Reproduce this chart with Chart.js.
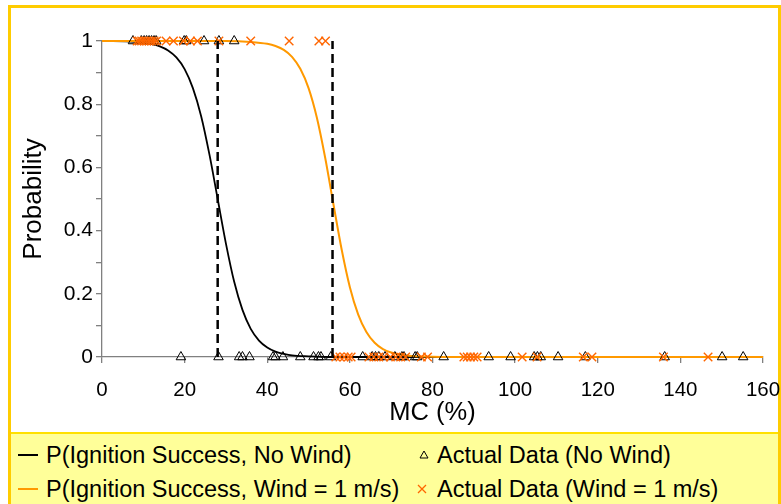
<!DOCTYPE html>
<html>
<head>
<meta charset="utf-8">
<script src="https://cdn.jsdelivr.net/npm/chart.js@4"></script>
<style>
    body { margin: 0; background: #fff; font-family: 'Liberation Sans', Arial, sans-serif; }
    #frame { position: absolute; left: 8px; top: 5px; width: 773px; height: 520px; box-sizing: border-box; border: 3px solid #FFCC00; }
    #legend { position: absolute; left: 11px; top: 432px; width: 767px; height: 80px; background: #FFFF99; border-top: 2px solid #FFE000; }
    #wrap { position: absolute; left: 0; top: 0; width: 781px; height: 432px; }
    .item { position: absolute; font-size: 23.5px; color: #000; white-space: nowrap; line-height: 26px; }
    .sym { position: absolute; }
</style>
</head>
<body>
<div id="frame"></div>
<div id="legend">
    <svg class="sym" style="left:7px;top:19px" width="22" height="4"><line x1="0" y1="2" x2="20" y2="2" stroke="#000" stroke-width="2"/></svg>
    <span class="item" style="left:35px;top:8px">P(Ignition Success, No Wind)</span>
    <svg class="sym" style="left:408px;top:16px" width="10" height="9"><polygon points="5,1 9,8 1,8" fill="none" stroke="#000" stroke-width="1"/></svg>
    <span class="item" style="left:426px;top:8px">Actual Data (No Wind)</span>
    <svg class="sym" style="left:7px;top:53px" width="22" height="4"><line x1="0" y1="2" x2="20" y2="2" stroke="#FF9900" stroke-width="2"/></svg>
    <span class="item" style="left:35px;top:42px">P(Ignition Success, Wind = 1 m/s)</span>
    <svg class="sym" style="left:406px;top:50px" width="10" height="10"><path d="M1,1 L9,9 M9,1 L1,9" stroke="#FF6600" stroke-width="1.3"/></svg>
    <span class="item" style="left:426px;top:42px">Actual Data (Wind = 1 m/s)</span>
</div>
<div id="wrap"><canvas id="probChart" width="781" height="432"></canvas></div>
<script>
// fitted curves
const noWindMC = [0, 8, 12, 14, 16, 18, 20, 22, 24, 26, 28, 30, 32, 34, 36, 38, 40, 42, 44, 46, 50, 55, 60, 160];
const noWindP = [1.000, 0.997, 0.990, 0.983, 0.970, 0.948, 0.911, 0.851, 0.762, 0.641, 0.500, 0.359, 0.238, 0.149, 0.089, 0.052, 0.030, 0.017, 0.010, 0.005, 0.002, 0.000, 0.000, 0.000];
const windMC = [0, 30, 36, 40, 42, 44, 46, 48, 50, 52, 54, 56, 58, 60, 62, 64, 66, 68, 70, 72, 75, 80, 90, 160];
const windP = [1.000, 1.000, 0.997, 0.991, 0.984, 0.972, 0.950, 0.912, 0.851, 0.758, 0.632, 0.485, 0.341, 0.221, 0.135, 0.079, 0.045, 0.025, 0.014, 0.008, 0.003, 0.001, 0.000, 0.000];

// observed samples: ignited (P = 1) and not ignited (P = 0)
const noWindIgnited = [7.5, 9.5, 10.2, 10.8, 11.4, 12.0, 12.6, 13.1, 19.9, 20.4, 24.7, 28.3, 32.0];
const noWindFailed = [19.1, 28.2, 33.2, 34.0, 35.7, 41.4, 42.0, 43.8, 48.0, 51.2, 52.4, 53.0, 55.4, 63.1, 65.4, 66.2, 67.0, 68.5, 70.9, 72.6, 73.1, 75.8, 76.3, 82.7, 93.6, 98.9, 104.6, 105.4, 106.2, 110.4, 117.0, 136.2, 150.1, 155.2];
const windIgnited = [8.5, 9.0, 9.6, 10.2, 10.8, 11.4, 12.0, 12.6, 13.2, 15.5, 17.3, 19.7, 21.4, 23.1, 28.3, 36.0, 45.3, 52.5, 54.1];
const windFailed = [56.6, 57.6, 58.6, 59.6, 60.3, 64.6, 65.8, 67.0, 68.2, 69.8, 71.1, 72.3, 73.5, 77.3, 78.8, 87.6, 88.4, 89.2, 90.0, 90.8, 101.7, 105.3, 116.5, 118.6, 135.9, 146.7];

// 50% moisture content marks
const thresholdMC = [28.0, 55.8];

const yTickLabels = ['0', '0.2', '0.4', '0.6', '0.8', '1'];

document.addEventListener('DOMContentLoaded', function() {
    const toPoints = (xs, ys) => xs.map((x, i) => ({ x: x, y: ys[i] }));
    const atLevel = (xs, level) => xs.map(x => ({ x: x, y: level }));
    const family = "'Liberation Sans', Arial, sans-serif";

    const datasets = [];
    thresholdMC.forEach(mc => {
        datasets.push({
            type: 'line', data: [{ x: mc, y: 0 }, { x: mc, y: 1 }],
            borderColor: '#000', borderWidth: 2.5, borderDash: [9, 5],
            pointRadius: 0, order: 0
        });
    });
    datasets.push({
        type: 'scatter', data: atLevel(windIgnited, 1).concat(atLevel(windFailed, 0)),
        pointStyle: 'crossRot', pointRadius: 6, borderColor: '#FF6600', borderWidth: 1.4,
        clip: false, order: 1
    });
    datasets.push({
        type: 'scatter', data: atLevel(noWindIgnited, 1).concat(atLevel(noWindFailed, 0)),
        pointStyle: 'triangle', pointRadius: 5.5, borderColor: '#000', backgroundColor: 'rgba(0,0,0,0)',
        borderWidth: 1, clip: false, order: 2
    });
    datasets.push({
        type: 'line', data: toPoints(windMC, windP), borderColor: '#FF9900', borderWidth: 2,
        cubicInterpolationMode: 'monotone', pointRadius: 0, clip: false, order: 3
    });
    datasets.push({
        type: 'line', data: toPoints(noWindMC, noWindP), borderColor: '#000', borderWidth: 1.8,
        cubicInterpolationMode: 'monotone', pointRadius: 0, clip: false, order: 4
    });

    const ctx = document.getElementById('probChart').getContext('2d');
    new Chart(ctx, {
        type: 'scatter',
        data: { datasets: datasets },
        options: {
            responsive: false,
            animation: false,
            layout: { padding: { top: 41, right: 18, bottom: 0, left: 0 } },
            plugins: { legend: { display: false }, tooltip: { enabled: false } },
            scales: {
                x: {
                    type: 'linear', min: 0, max: 160,
                    ticks: { stepSize: 20, font: { family: family, size: 20.5 }, color: '#000', padding: 15, maxRotation: 0 },
                    grid: { drawOnChartArea: false, tickLength: 6, color: '#808080', lineWidth: 1.3 },
                    border: { color: '#808080', width: 1.3 },
                    title: { display: true, text: 'MC (%)', color: '#000', font: { family: family, size: 25.5 }, padding: { top: 0, bottom: 4 } },
                    afterFit: scale => {
                        scale.height = 75;
                        scale.paddingLeft = 0;
                        scale.paddingRight = 0;
                    }
                },
                y: {
                    min: 0, max: 1,
                    ticks: {
                        stepSize: 0.1, autoSkip: false, font: { family: family, size: 21 }, color: '#000', padding: 3,
                        callback: value => {
                            const tenths = Math.round(value * 10);
                            return tenths % 2 === 0 ? yTickLabels[tenths / 2] : '';
                        }
                    },
                    grid: { drawOnChartArea: false, tickLength: 6, color: '#808080', lineWidth: 1.3 },
                    border: { color: '#808080', width: 1.3 },
                    title: { display: true, text: 'Probability', color: '#000', font: { family: family, size: 26 }, padding: { top: 18, bottom: 0 } },
                    afterFit: scale => {
                        scale.width = 102;
                        scale.paddingTop = 0;
                        scale.paddingBottom = 0;
                    }
                }
            }
        }
    });
});
</script>
</body>
</html>
